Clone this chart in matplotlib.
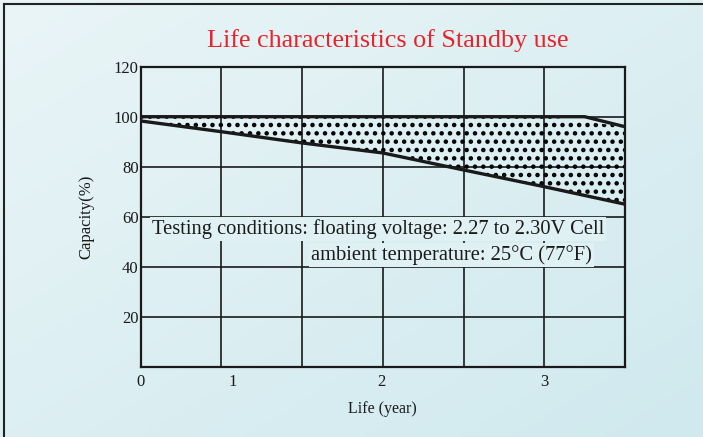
import matplotlib.pyplot as plt
import numpy as np

# datos (x en unidades de rejilla, 0..6)
x_upper = [0, 5.5, 6]
cap_upper = [100, 100, 96]
x_lower = [0, 1, 2, 3, 4, 5, 6]
cap_lower = [98.3, 94, 89.5, 85.5, 78.7, 72, 65]
year_labels = ['0', '1', '2', '3']
year_pos = [0, 1.14, 2.98, 5.0]
y_ticks = [20, 40, 60, 80, 100, 120]

plt.rcParams['font.family'] = ['Liberation Serif', 'DejaVu Serif']
plt.rcParams['hatch.color'] = 'black'
plt.rcParams['hatch.linewidth'] = 2.0

fig = plt.figure(figsize=(7.03, 4.37), dpi=100)
fig.patch.set_facecolor('#dcf0f3')

# fondo en degradado azul claro
bg = fig.add_axes([-0.02, -0.02, 1.04, 1.04], zorder=-10)
gx, gy = np.meshgrid(np.linspace(0, 1, 200), np.linspace(0, 1, 200))
grad = (gx + gy) / 2
bg.imshow(grad, cmap=plt.matplotlib.colors.LinearSegmentedColormap.from_list(
    'bgc', ['#eaf5f7', '#cfe9ee']), extent=[0, 1, 0, 1], aspect='auto', origin='upper')
bg.set_axis_off()
# marco (arriba e izquierda)
fig.add_artist(plt.Line2D([3.5 / 703, 3.5 / 703], [0, 1 - 4 / 437], color='#222222', lw=1.5))
fig.add_artist(plt.Line2D([3.5 / 703, 1.01], [1 - 4 / 437, 1 - 4 / 437], color='#222222', lw=1.5))

ax = fig.add_axes([140.6 / 703, 70.3 / 437, 484.4 / 703, 300 / 437])
ax.set_facecolor('none')

ax.fill_between(x_lower, cap_lower, np.interp(x_lower, x_upper, cap_upper),
                facecolor='none', edgecolor='black', hatch='..', linewidth=0, zorder=2)
ax.plot(x_upper, cap_upper, color='#1a1a1a', lw=2.4, zorder=4)
ax.plot(x_lower, cap_lower, color='#1a1a1a', lw=2.4, zorder=4)

## Eje Y
ax.set_ylim(0, 120)
ax.set_yticks(np.arange(0, 121, 20))
ax.set_yticklabels([''] + [str(v) for v in y_ticks])

## Eje X
ax.set_xlim(0, 6)
ax.xaxis.remove_overlapping_locs = False
ax.set_xticks(np.arange(0, 7, 1))
ax.set_xticklabels([])
ax.set_xticks(year_pos, minor=True)
ax.set_xticklabels(year_labels, minor=True)

ax.tick_params(axis='both', which='both', length=0, labelsize=12, colors='#1a1a1a')
ax.tick_params(axis='y', pad=1.5)
ax.tick_params(axis='x', which='minor', pad=5)

ax.grid(True, which='major', color='#1a1a1a', lw=1.2, zorder=1)
for s in ax.spines.values():
    s.set_linewidth(1.6)
    s.set_color('#1a1a1a')

ax.set_xlabel('Life (year)', fontsize=11.5, labelpad=8, color='#1a1a1a')
ax.set_ylabel('Capacity(%)', fontsize=12, labelpad=14, color='#1a1a1a')

txt_bg = dict(facecolor='#e0f1f4', edgecolor='none', pad=1.5)
ax.text(0.14, 55, 'Testing conditions: floating voltage: 2.27 to 2.30V Cell',
        fontsize=14.8, va='center', ha='left', bbox=txt_bg, zorder=5, color='#1a1a1a')
ax.text(2.11, 44.7, 'ambient temperature: 25°C (77°F)',
        fontsize=14.8, va='center', ha='left', bbox=txt_bg, zorder=5, color='#1a1a1a')

fig.text(0.552, 0.908, 'Life characteristics of Standby use', color='#e8232b',
         fontsize=18.8, ha='center', va='center')

plt.savefig('out.png', dpi=100)
